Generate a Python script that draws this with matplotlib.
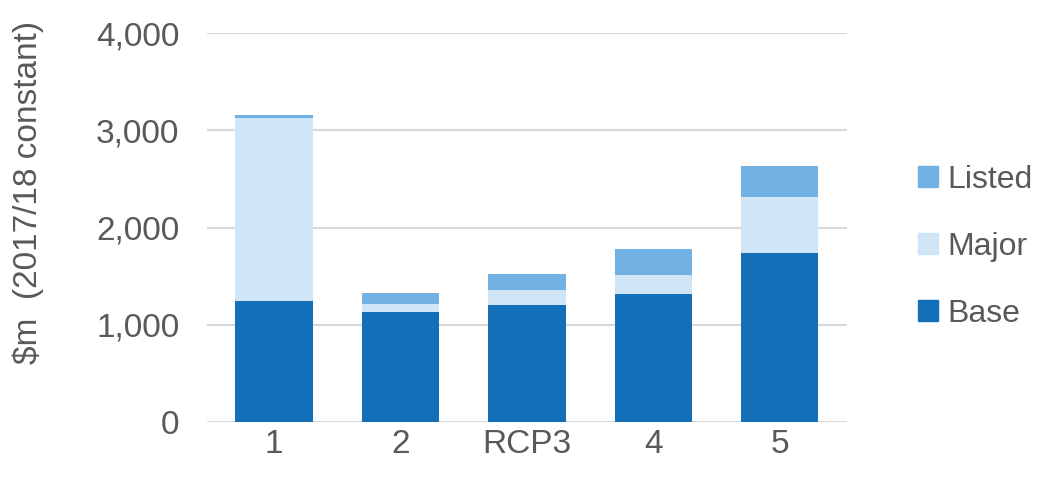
import matplotlib
matplotlib.use('Agg')
import matplotlib.pyplot as plt
from matplotlib.patches import Patch
from matplotlib.ticker import FuncFormatter

# Stacked capital spend by option
categories = ['1', '2', 'RCP3', '4', '5']
base   = [1240, 1130, 1205, 1315, 1740]
major  = [1890,   85,  155,  200,  575]
listed = [  30,  110,  160,  265,  315]

BASE_C   = '#1370B8'
MAJOR_C  = '#D0E5F5'
LISTED_C = '#71B1E3'
GRID_C   = '#D9D9D9'
TEXT_C   = '#595959'

plt.rcParams['font.family'] = ['Liberation Sans', 'DejaVu Sans']

fig = plt.figure(figsize=(10.42, 4.83), dpi=100)
ax = fig.add_axes([0.1987, 0.1263, 0.614, 0.805])

x = range(len(categories))
major_bottom = base
listed_bottom = [b + m for b, m in zip(base, major)]

ax.bar(x, base, width=0.61, color=BASE_C, zorder=3)
ax.bar(x, major, width=0.61, bottom=major_bottom, color=MAJOR_C, zorder=3)
ax.bar(x, listed, width=0.61, bottom=listed_bottom, color=LISTED_C, zorder=3)

ax.set_xlim(-0.53, 4.53)
ax.set_ylim(0, 4000)
ax.set_yticks([0, 1000, 2000, 3000, 4000])
ax.yaxis.set_major_formatter(FuncFormatter(lambda v, _: f'{int(v):,}'))
ax.set_xticks(list(x))
ax.set_xticklabels(categories)

ax.yaxis.grid(True, color=GRID_C, linewidth=1.5, zorder=0)
for s in ax.spines.values():
    s.set_visible(False)
ax.tick_params(axis='both', length=0, labelsize=24, labelcolor=TEXT_C)
ax.tick_params(axis='y', pad=20)
ax.tick_params(axis='x', pad=5)

fig.text(0.027, 0.602, '$m  (2017/18 constant)', rotation=90,
         ha='center', va='center', fontsize=24, color=TEXT_C)

handles = [Patch(color=LISTED_C, label='Listed'),
           Patch(color=MAJOR_C, label='Major'),
           Patch(color=BASE_C, label='Base')]
leg = fig.legend(handles=handles, loc='center left',
                 bbox_to_anchor=(0.881, 0.489), frameon=False,
                 fontsize=23, handlelength=0.62, handleheight=0.62,
                 handletextpad=0.3, labelspacing=1.15, borderaxespad=0,
                 borderpad=0)
for t in leg.get_texts():
    t.set_color(TEXT_C)

fig.savefig('out.png', dpi=100, facecolor='white')
plt.close(fig)
